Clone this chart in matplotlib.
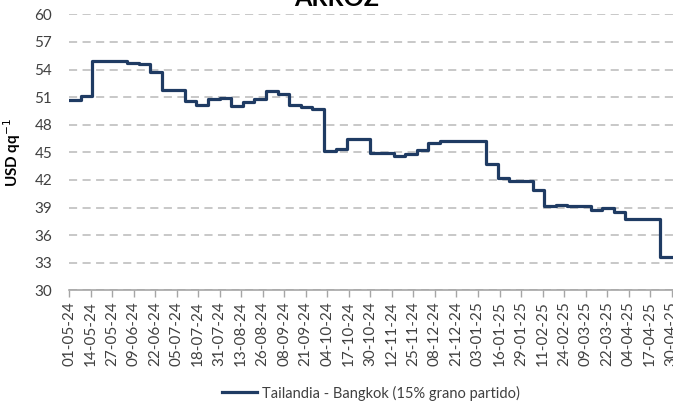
import matplotlib
matplotlib.use('Agg')
import matplotlib.pyplot as plt
import matplotlib.dates as mdates
import pandas as pd

plt.rcParams['font.family'] = ['Lato', 'DejaVu Sans']

# precio semanal arroz Tailandia (USD/qq), desde 01-05-24
start_date = '2024-05-01'
precios = [50.7, 51.1, 54.9, 54.9, 54.9, 54.7, 54.6, 53.7, 51.8, 51.8,
           50.6, 50.1, 50.8, 50.9, 50.0, 50.5, 50.8, 51.7, 51.3, 50.1,
           49.9, 49.7, 45.1, 45.4, 46.4, 46.4, 44.9, 44.9, 44.6, 44.8,
           45.2, 46.0, 46.2, 46.2, 46.2, 46.2, 43.7, 42.2, 41.9, 41.9,
           40.9, 39.2, 39.3, 39.2, 39.2, 38.7, 38.9, 38.5, 37.8, 37.8,
           37.8, 33.6, 33.6]
serie = 'Tailandia - Bangkok (15% grano partido)'
y_ticks = [30, 33, 36, 39, 42, 45, 48, 51, 54, 57, 60]

fechas = pd.date_range(start_date, periods=len(precios), freq='7D')
tick_fechas = pd.date_range(start_date, '2025-04-30', freq='13D')

fig = plt.figure(figsize=(6.73, 4.01), dpi=100)
W, H = 673, 401
x0 = 69
px_day = (671.7 - 69) / 364
dias = 370
ax = fig.add_axes([x0 / W, 1 - 290.3 / H, dias * px_day / W, (290.3 - 14.3) / H])

ax.plot(fechas, precios, drawstyle='steps-post', color='#1f3b63', lw=2.3, label=serie)

ax.set_ylim(30, 60)
ax.set_yticks(y_ticks)
ax.set_xlim(pd.Timestamp(start_date), pd.Timestamp(start_date) + pd.Timedelta(days=dias))
ax.set_xticks(tick_fechas)
ax.xaxis.set_major_formatter(mdates.DateFormatter('%d-%m-%y'))

ax.grid(axis='y', color='#c4c4c4', lw=1.3, linestyle=(0, (4.5, 3)))
ax.set_axisbelow(True)
for s in ['top', 'right', 'left']:
    ax.spines[s].set_visible(False)
ax.spines['bottom'].set_color('#a6a6a6')
ax.spines['bottom'].set_linewidth(1.2)

ax.tick_params(axis='y', length=0, pad=12, labelsize=11, labelcolor='#404040')
ax.tick_params(axis='x', length=5, color='#a6a6a6', width=1, labelsize=11,
               labelcolor='#404040', rotation=90, pad=3)

ax.set_ylabel('USD qq$^{-1}$', fontsize=11, fontweight='bold', labelpad=8)

fig.text(0.5, 1 - 6 / H, 'ARROZ', ha='center', va='baseline', fontsize=18, fontweight='bold')

fig.legend(loc='center', bbox_to_anchor=(0.551, 1 - 393 / H), frameon=False,
           fontsize=10.5, handlelength=2.4, handletextpad=0.3, labelcolor='#404040')

fig.savefig('out.png', dpi=100)
